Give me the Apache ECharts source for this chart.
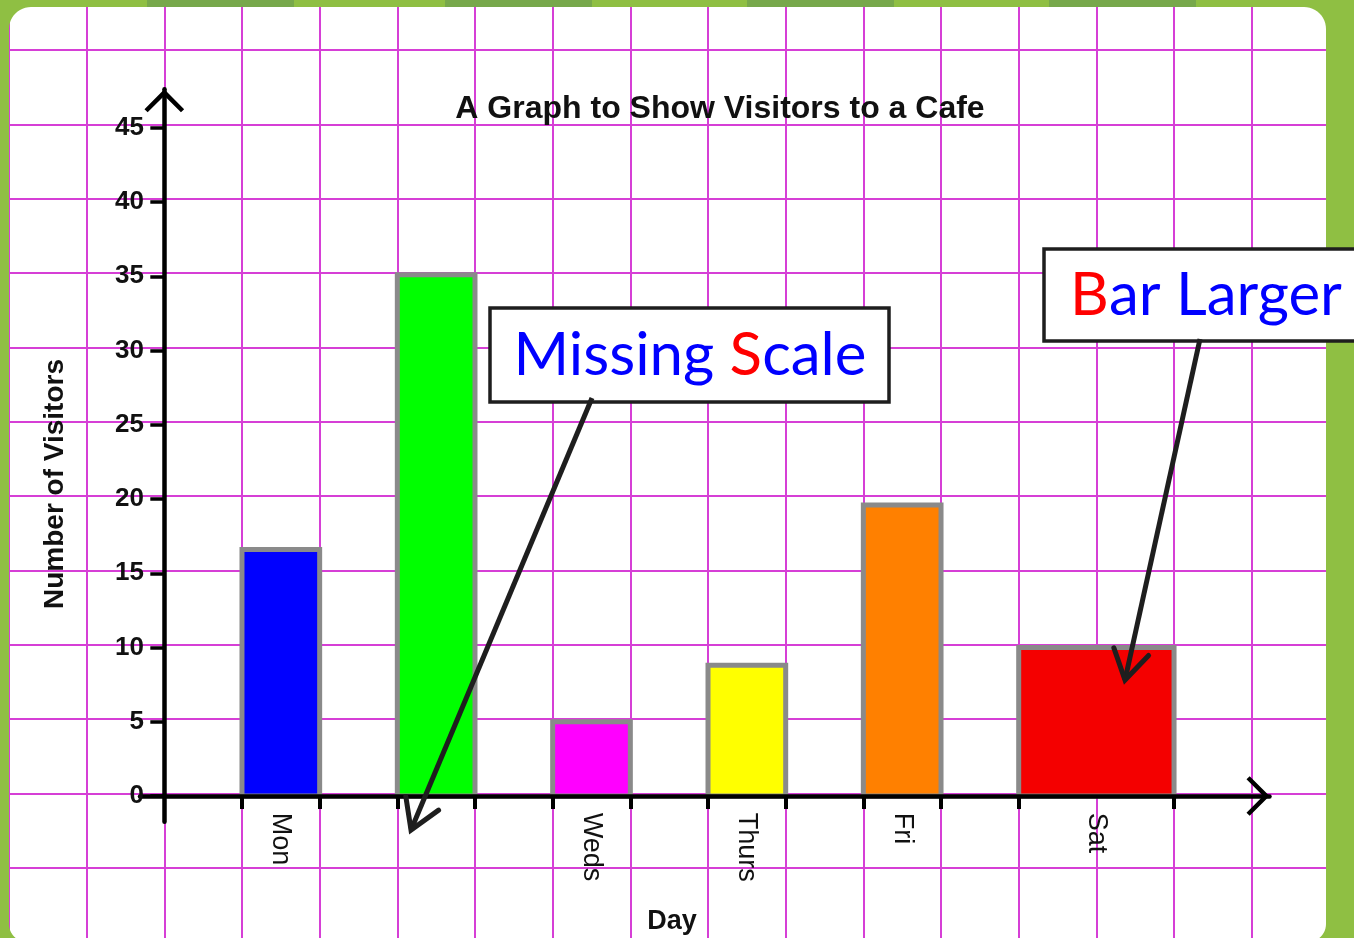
<!DOCTYPE html>
<html>
<head>
<meta charset="utf-8">
<script src="https://cdn.jsdelivr.net/npm/echarts@6/dist/echarts.min.js"></script>
<style>html,body{margin:0;padding:0;background:#8fbf43;}#c{width:1354px;height:938px;}</style>
</head>
<body>
<div id="c"></div>
<script>
// ---- data ----
const days = ['Mon', 'Tues', 'Weds', 'Thurs', 'Fri', 'Sat'];
const dayLabels = ['Mon', '', 'Weds', 'Thurs', 'Fri', 'Sat']; // Tues label is missing in the original
const visitors = [16.6, 35.1, 5.0, 8.8, 19.6, 10.0];
const barColors = ['#0000ff', '#00ff00', '#ff00ff', '#ffff00', '#ff8000', '#f40000'];
const yTicks = [0, 5, 10, 15, 20, 25, 30, 35, 40, 45];
const titleText = 'A Graph to Show Visitors to a Cafe';
const yName = 'Number of Visitors';
const xName = 'Day';

// ---- layout (grid-square units along x) ----
const barStart = [1, 3, 5, 7, 9, 11];
const barSpan = [1, 1, 1, 1, 1, 2];

const barData = days.map((d, i) => [barStart[i], barStart[i] + barSpan[i], visitors[i]]);
const barCenters = barData.map(b => (b[0] + b[1]) / 2);
const xTickVals = [];
barData.forEach(b => { if (!xTickVals.includes(b[0])) xTickVals.push(b[0]); if (!xTickVals.includes(b[1])) xTickVals.push(b[1]); });

const GRIDC = '#d63fd6';
const GREEN = '#8fbf43';
const chevron = 'path://M20,0 L40,20 L36.8,23.2 L20,6.4 L3.2,23.2 L0,20 Z';
const FONT = '"Liberation Sans", Arial, sans-serif';
const HAND = 'Lato, "Open Sans", sans-serif';

function arrow(x1, y1, x2, y2, arm, ang) {
  const dx = x2 - x1, dy = y2 - y1, L = Math.hypot(dx, dy);
  const bx = -dx / L, by = -dy / L;
  const r = a => [x2 + arm * (bx * Math.cos(a) - by * Math.sin(a)), y2 + arm * (bx * Math.sin(a) + by * Math.cos(a))];
  const a1 = r(ang), a2 = r(-ang);
  return [
    { type: 'line', z: 110, shape: { x1, y1, x2, y2 }, style: { stroke: '#1e1e1e', lineWidth: 5, lineCap: 'butt' } },
    { type: 'polyline', z: 110, shape: { points: [a1, [x2, y2], a2] }, style: { stroke: '#1e1e1e', lineWidth: 5, fill: null, lineJoin: 'miter', lineCap: 'round' } }
  ];
}
// rounded-corner filler: corner point (cx,cy), circle centre (ox,oy), radius r, angles a0->a1
function corner(cx, cy, ox, oy, r, a0, a1) {
  const pts = [[cx, cy]];
  for (let k = 0; k <= 12; k++) {
    const a = a0 + (a1 - a0) * k / 12;
    pts.push([ox + r * Math.cos(a), oy + r * Math.sin(a)]);
  }
  return { type: 'polygon', z: 50, silent: true, shape: { points: pts }, style: { fill: GREEN } };
}
const L = 9, T = 7, R = 1326, B = 942, RT = 22, RB = 18;

const chart = echarts.init(document.getElementById('c'), null, { renderer: 'canvas' });
const option = {
  backgroundColor: '#ffffff',
  animation: false,
  title: {
    text: titleText, left: 715, top: 88, textAlign: 'center',
    textStyle: { fontFamily: FONT, fontWeight: 'bold', fontSize: 32, color: '#111' }
  },
  grid: [
    { left: 140, right: 84.5, top: 89.3, bottom: 116.3 },
    { left: 9, right: 24.6, top: 0, bottom: 0 },
    { left: 9, right: 28, top: 50, bottom: 70.3 }
  ],
  xAxis: [
    {
      gridIndex: 0, type: 'value', min: -0.313, max: 14.229, z: 5,
      axisLine: { show: true, onZero: true, lineStyle: { color: '#000', width: 4.5 }, symbol: ['none', chevron], symbolSize: [40, 23], symbolOffset: [0, -11.5] },
      axisTick: { show: true, customValues: xTickVals, length: 13, lineStyle: { color: '#000', width: 4 } },
      axisLabel: {
        show: true, customValues: barCenters, rotate: -90, margin: -9,
        formatter: v => { const i = barCenters.findIndex(c => Math.abs(c - v) < 1e-6); return i >= 0 ? dayLabels[i] : ''; },
        fontFamily: FONT, fontSize: 27, color: '#111'
      },
      splitLine: { show: false }
    },
    {
      gridIndex: 1, type: 'value', min: 0, max: 17, interval: 1,
      axisLine: { show: false }, axisTick: { show: false }, axisLabel: { show: false },
      splitLine: { show: true, lineStyle: { color: GRIDC, width: 2 } }
    },
    {
      gridIndex: 2, type: 'value', min: 0, max: 1,
      axisLine: { show: false }, axisTick: { show: false }, axisLabel: { show: false }, splitLine: { show: false }
    }
  ],
  yAxis: [
    {
      gridIndex: 0, type: 'value', min: -1.73, max: 47.59, z: 5,
      axisLine: { show: true, onZero: true, lineStyle: { color: '#000', width: 4.5 }, symbol: ['none', chevron], symbolSize: [40, 23], symbolOffset: [0, -11.5] },
      axisTick: { show: true, customValues: yTicks, length: 14, lineStyle: { color: '#000', width: 3.5 } },
      axisLabel: { show: true, customValues: yTicks, margin: -4, fontFamily: FONT, fontWeight: 'bold', fontSize: 26, color: '#111' },
      splitLine: { show: false }
    },
    {
      gridIndex: 1, type: 'value', min: 0, max: 1,
      axisLine: { show: false }, axisTick: { show: false }, axisLabel: { show: false }, splitLine: { show: false }
    },
    {
      gridIndex: 2, type: 'value', min: -5, max: 50, interval: 5,
      axisLine: { show: false }, axisTick: { show: false }, axisLabel: { show: false },
      splitLine: { show: true, lineStyle: { color: GRIDC, width: 2 } }
    }
  ],
  series: [
    {
      type: 'custom', xAxisIndex: 0, yAxisIndex: 0, z: 3,
      data: barData,
      encode: { x: [0, 1], y: 2 },
      renderItem: (params, api) => {
        const p0 = api.coord([api.value(0), api.value(2)]);
        const p1 = api.coord([api.value(1), 0]);
        return {
          type: 'rect',
          shape: { x: p0[0], y: p0[1], width: p1[0] - p0[0], height: p1[1] - p0[1] },
          style: { fill: barColors[params.dataIndex], stroke: '#8a8a8a', lineWidth: 5 }
        };
      }
    }
  ],
  graphic: [
    // green frame around the white card
    { type: 'rect', z: 50, silent: true, shape: { x: 0, y: 0, width: 1354, height: T }, style: { fill: GREEN } },
    { type: 'rect', z: 50, silent: true, shape: { x: 0, y: 0, width: L, height: 938 }, style: { fill: GREEN } },
    { type: 'rect', z: 50, silent: true, shape: { x: R, y: 0, width: 1354 - R, height: 938 }, style: { fill: GREEN } },
    corner(L, T, L + RT, T + RT, RT, Math.PI, 1.5 * Math.PI),
    corner(R, T, R - RT, T + RT, RT, 1.5 * Math.PI, 2 * Math.PI),
    corner(L, B, L + RB, B - RB, RB, 0.5 * Math.PI, Math.PI),
    corner(R, B, R - RB, B - RB, RB, 0, 0.5 * Math.PI),
    { type: 'rect', z: 51, silent: true, shape: { x: 147, y: 0, width: 147, height: 7 }, style: { fill: '#77a84b' } },
    { type: 'rect', z: 51, silent: true, shape: { x: 445, y: 0, width: 147, height: 7 }, style: { fill: '#77a84b' } },
    { type: 'rect', z: 51, silent: true, shape: { x: 747, y: 0, width: 147, height: 7 }, style: { fill: '#77a84b' } },
    { type: 'rect', z: 51, silent: true, shape: { x: 1049, y: 0, width: 147, height: 7 }, style: { fill: '#77a84b' } },
    // axis names
    {
      type: 'text', z: 60, x: 55, y: 484, rotation: Math.PI / 2,
      style: { text: yName, font: 'bold 28px ' + FONT, fill: '#111', align: 'center', verticalAlign: 'middle' }
    },
    {
      type: 'text', z: 60, x: 672, y: 922,
      style: { text: xName, font: 'bold 27px ' + FONT, fill: '#111', align: 'center', verticalAlign: 'middle' }
    },
    // annotation: Missing Scale
    { type: 'rect', z: 100, shape: { x: 490, y: 308, width: 399, height: 94 }, style: { fill: '#fff', stroke: '#1e1e1e', lineWidth: 3.5 } },
    {
      type: 'text', z: 101, x: 690, y: 356,
      style: {
        text: '{b|Missing }{r|S}{b|cale}', align: 'center', verticalAlign: 'middle',
        rich: { b: { fill: '#0000ff', font: '60px ' + HAND }, r: { fill: '#ff0000', font: '60px ' + HAND } }
      }
    },
    // annotation: Bar Larger
    { type: 'rect', z: 100, shape: { x: 1044, y: 249, width: 330, height: 92 }, style: { fill: '#fff', stroke: '#1e1e1e', lineWidth: 3.5 } },
    {
      type: 'text', z: 101, x: 1206, y: 296,
      style: {
        text: '{r|B}{b|ar Larger}', align: 'center', verticalAlign: 'middle',
        rich: { b: { fill: '#0000ff', font: '60px ' + HAND }, r: { fill: '#ff0000', font: '60px ' + HAND } }
      }
    },
    ...arrow(592, 398, 411, 830, 34, 0.55),
    ...arrow(1200, 339, 1125, 680, 34, 0.55)
  ]
};
chart.setOption(option);
</script>
</body>
</html>
